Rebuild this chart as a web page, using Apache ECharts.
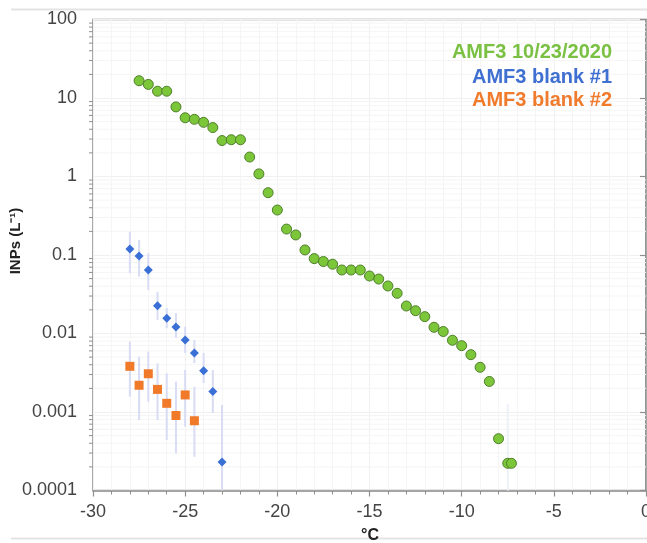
<!DOCTYPE html>
<html><head><meta charset="utf-8">
<script src="https://cdn.jsdelivr.net/npm/echarts@6/dist/echarts.min.js"></script>
<style>html,body{margin:0;padding:0;background:#fff}#c{width:647px;height:543px}</style>
</head><body><div id="c"></div>
<script>
// ---- data ----
var greenT = [-27.5,-27,-26.5,-26,-25.5,-25,-24.5,-24,-23.5,-23,-22.5,-22,-21.5,-21,-20.5,-20,-19.5,-19,-18.5,-18,-17.5,-17,-16.5,-16,-15.5,-15,-14.5,-14,-13.5,-13,-12.5,-12,-11.5,-11,-10.5,-10,-9.5,-9,-8.5,-8,-7.5,-7.3];
var greenINP = [16.6,14.9,12.2,12.2,7.7,5.6,5.35,4.9,4.2,2.87,2.94,2.94,1.77,1.08,0.622,0.374,0.214,0.180,0.116,0.090,0.0826,0.0763,0.0644,0.0644,0.0644,0.054,0.0494,0.0403,0.0325,0.0224,0.0195,0.0164,0.0120,0.0106,0.0082,0.0070,0.00537,0.00371,0.00245,0.000457,0.000222,0.000222];
var greenErrT = [-7.5];
var greenErrLow = [0.0001];
var greenErrHigh = [0.00125];

var blueT = [-28,-27.5,-27,-26.5,-26,-25.5,-25,-24.5,-24,-23.5,-23];
var blueINP = [0.119,0.097,0.0644,0.0226,0.0156,0.0121,0.00826,0.00565,0.00336,0.00182,0.000231];
var blueLow = [0.0585,0.053,0.0358,0.0149,0.0117,0.00877,0.00565,0.00421,0.00234,0.00097,0.0001];
var blueHigh = [0.198,0.155,0.105,0.034,0.0211,0.0182,0.0122,0.00826,0.00565,0.00343,0.00123];

var orangeT = [-28,-27.5,-27,-26.5,-26,-25.5,-25,-24.5];
var orangeINP = [0.00382,0.00219,0.00307,0.00194,0.00129,0.000902,0.00165,0.000774];
var orangeLow = [0.00157,0.00079,0.00135,0.00079,0.00044,0.000298,0.00065,0.000269];
var orangeHigh = [0.00787,0.00506,0.00586,0.00417,0.00311,0.00243,0.00343,0.0021];

var yTickValues = [0.0001,0.001,0.01,0.1,1,10,100];
var yTickLabels = ['0.0001','0.001','0.01','0.1','1','10','100'];
var seriesNames = ['AMF3 10/23/2020','AMF3 blank #1','AMF3 blank #2'];
var xTitle = '°C';
var yTitle = 'INPs (L⁻¹)';

// ---- build ----
var FONT = '"Liberation Sans", Arial, sans-serif';
function zip(a,b){return a.map(function(v,i){return [v,b[i]];});}
function zip3(a,b,c){return a.map(function(v,i){return [v,b[i],c[i]];});}

var minorVals = [];
for (var k=-4;k<2;k++){ for (var m=2;m<10;m++){ minorVals.push([-30, m*Math.pow(10,k)]); } }

function errRender(color){
  return function(params, api){
    var x = api.value(0);
    var p1 = api.coord([x, api.value(1)]);
    var p2 = api.coord([x, api.value(2)]);
    return {type:'line', shape:{x1:p1[0],y1:p1[1],x2:p2[0],y2:p2[1]},
      style:{stroke:color,lineWidth:2}};
  };
}

var chart = echarts.init(document.getElementById('c'));
chart.setOption({
  animation:false,
  backgroundColor:'#fff',
  grid:{left:93,right:1,top:19.5,bottom:52.5,outerBoundsMode:'none',containLabel:false,show:true,borderColor:'#8f8f8f',borderWidth:1.5,backgroundColor:'transparent'},
  xAxis:{type:'value',min:-30,max:0,interval:5,
    axisLine:{show:true,lineStyle:{color:'#8f8f8f',width:1.5}},
    axisTick:{show:true,inside:false,length:6,lineStyle:{color:'#8f8f8f',width:1.2}},
    minorTick:{show:true,splitNumber:5,length:4,lineStyle:{color:'#8f8f8f',width:1}},
    splitLine:{show:true,lineStyle:{color:'#f0f0f0',width:1}},
    minorSplitLine:{show:true,lineStyle:{color:'#f5f5f5',width:1}},
    axisLabel:{color:'#444',fontFamily:FONT,fontSize:18,margin:13}
  },
  yAxis:{type:'log',logBase:10,min:0.0001,max:100,splitNumber:6,
    axisLine:{show:true,lineStyle:{color:'#8f8f8f',width:1.5}},
    axisTick:{show:true,inside:false,length:6,lineStyle:{color:'#8f8f8f',width:1.2}},
    splitLine:{show:true,lineStyle:{color:'#f0f0f0',width:1}},
    axisLabel:{color:'#444',fontFamily:FONT,fontSize:18,margin:16,
      formatter:function(v){
        for (var i=0;i<yTickValues.length;i++){ if (Math.abs(Math.log10(v)-Math.log10(yTickValues[i]))<1e-6) return yTickLabels[i]; }
        return '';
      }}
  },
  graphic:[
    {type:'line',z:100,shape:{x1:11,y1:9.5,x2:647,y2:9.5},style:{stroke:'#e4e4e4',lineWidth:2}},
    {type:'line',z:100,shape:{x1:11,y1:538.5,x2:647,y2:538.5},style:{stroke:'#e4e4e4',lineWidth:2}},
    {type:'text',z:100,x:16,y:241,rotation:Math.PI/2,style:{text:yTitle,fill:'#222',font:'bold 15px '+FONT,textAlign:'center',textVerticalAlign:'middle'}},
    {type:'text',z:100,x:370,y:536,style:{text:xTitle,fill:'#222',font:'bold 16px '+FONT,textAlign:'center',textVerticalAlign:'middle'}},
    {type:'text',z:100,x:612,y:52,style:{text:seriesNames[0],fill:'#7ac143',font:'bold 20px '+FONT,textAlign:'right',textVerticalAlign:'middle'}},
    {type:'text',z:100,x:612,y:77,style:{text:seriesNames[1],fill:'#3f6fd0',font:'bold 20px '+FONT,textAlign:'right',textVerticalAlign:'middle'}},
    {type:'text',z:100,x:612,y:100,style:{text:seriesNames[2],fill:'#f07b2d',font:'bold 20px '+FONT,textAlign:'right',textVerticalAlign:'middle'}}
  ],
  series:[
    {type:'custom',name:'minorTicks',silent:true,clip:false,z:1,data:minorVals,
      renderItem:function(params,api){
        var p = api.coord([api.value(0), api.value(1)]);
        var pr = api.coord([0, api.value(1)]);
        return {type:'group',children:[
          {type:'line',shape:{x1:p[0]+1,y1:p[1],x2:pr[0],y2:p[1]},style:{stroke:'#f5f5f5',lineWidth:1}},
          {type:'line',shape:{x1:p[0]-4,y1:p[1],x2:p[0],y2:p[1]},style:{stroke:'#8f8f8f',lineWidth:1}}
        ]};
      }},
    {type:'custom',name:'errGreen',silent:true,z:2,data:zip3(greenErrT,greenErrLow,greenErrHigh),renderItem:errRender('#eef0f8')},
    {type:'custom',name:'errBlue',silent:true,z:2,data:zip3(blueT,blueLow,blueHigh),renderItem:errRender('#d8dcf4')},
    {type:'custom',name:'errOrange',silent:true,z:2,data:zip3(orangeT,orangeLow,orangeHigh),renderItem:errRender('#d8dcf4')},
    {type:'scatter',name:seriesNames[0],z:5,data:zip(greenT,greenINP),symbol:'circle',symbolSize:10,
      itemStyle:{color:'#7cc63a',borderColor:'#4f7f2a',borderWidth:1,opacity:1}},
    {type:'scatter',name:seriesNames[1],z:5,data:zip(blueT,blueINP),symbol:'diamond',symbolSize:[9,9],
      itemStyle:{color:'#3a6fd6',opacity:1}},
    {type:'scatter',name:seriesNames[2],z:5,data:zip(orangeT,orangeINP),symbol:'rect',symbolSize:9,
      itemStyle:{color:'#f07a2a',opacity:1}}
  ]
});
</script></body></html>
